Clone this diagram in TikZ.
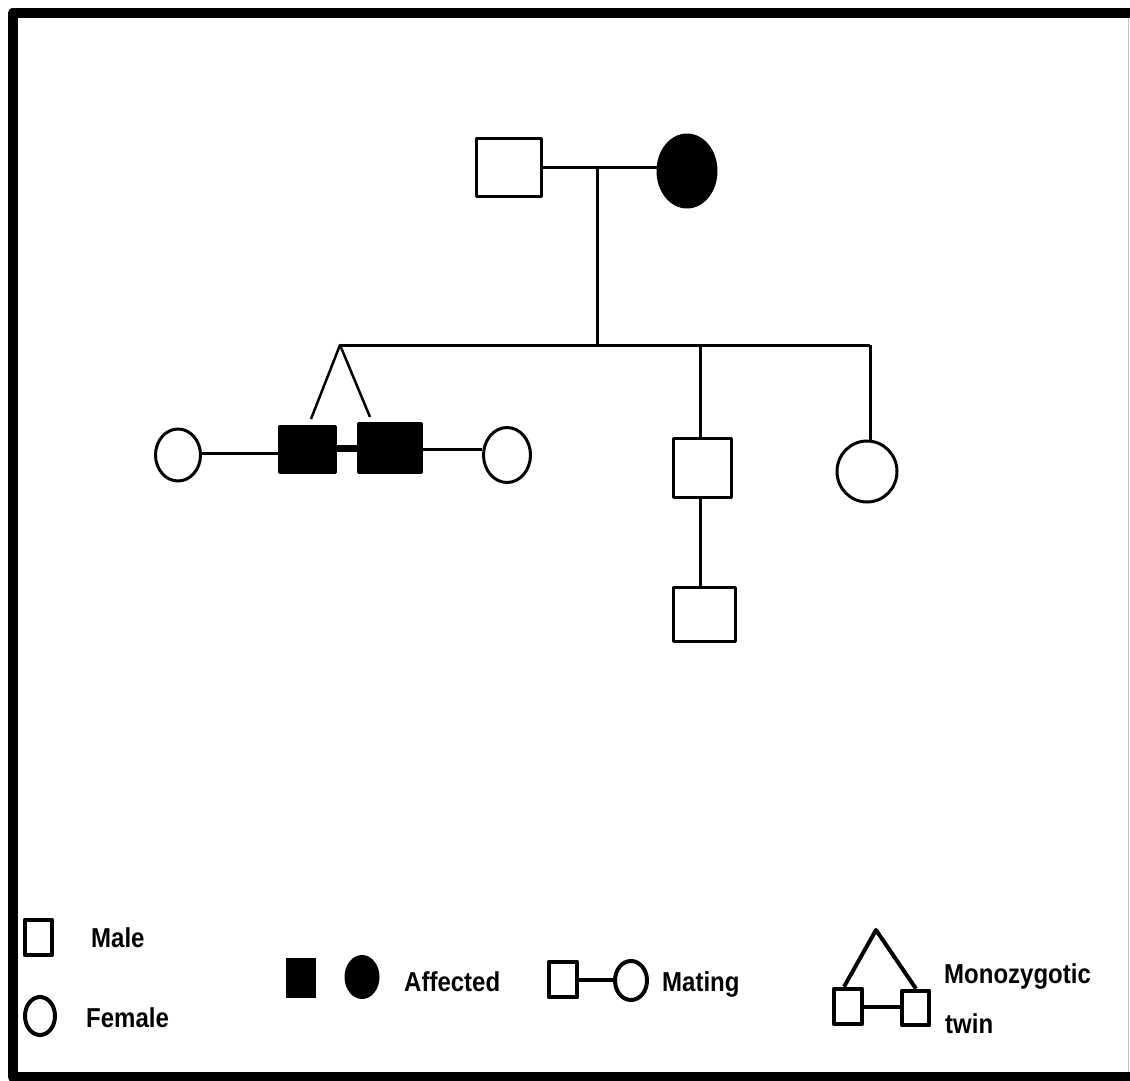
\documentclass[tikz,border=0pt]{standalone}
\usepackage{fontspec}
\usepackage{graphicx}
\setmainfont{Liberation Sans}
\usetikzlibrary{shapes.geometric}
% legend labels are set slightly taller than the font's natural shape
\newcommand{\tallbold}[1]{\scalebox{1}[1.14]{#1}}
\begin{document}
\begin{tikzpicture}[x=1pt,y=-1pt,
  line join=round,
  male/.style={draw,rectangle,line width=3pt,inner sep=0pt},
  female/.style={draw,ellipse,line width=3pt,inner sep=0pt},
  affected/.style={fill=black},
  link/.style={line width=3pt},
  lmale/.style={draw,rectangle,line width=4.5pt,inner sep=0pt},
  lfemale/.style={draw,ellipse,line width=4pt,inner sep=0pt},
  llink/.style={line width=4pt},
  legtext/.style={anchor=base west,inner sep=0pt,font=\fontsize{24}{28}\selectfont\bfseries}]

% canvas and frame
\useasboundingbox (0,0) rectangle (1130,1081);
\fill[white] (0,0) rectangle (1130,1081);
\draw[line width=10pt] (1135,13.5) -- (12.5,13.5) -- (12.5,1077) -- (1135,1077);
\draw[line width=1.2pt,black!25] (1128.5,18) -- (1128.5,1072);

% generation I
\node[male,minimum width=65pt,minimum height=58pt] (father) at (509,167) {};
\node[female,affected,minimum width=58pt,minimum height=72pt] (mother) at (687,171) {};
\draw[link] (father.east) -- (father.east -| mother.west);
\coordinate (mate) at (597,167);
\coordinate (sib) at (597,345);
\draw[link] (mate) -- (sib);

% sibship line
\coordinate (apex) at (340,345);
\coordinate (sibend) at (870,345);
\draw[link] (apex) -- (sibend);

% generation II: monozygotic twins with their spouses
\node[male,affected,minimum width=56pt,minimum height=46pt] (twinA) at (307,449) {};
\node[male,affected,minimum width=63pt,minimum height=49pt] (twinB) at (389.5,447.5) {};
\coordinate (legA) at (311,419);
\coordinate (legB) at (370,417);
\draw[line width=2.5pt] (legA) -- (apex) -- (legB);
\draw[line width=7pt] (twinA.east |- 0,448) -- (twinB.west |- 0,448);
\node[female,minimum width=45pt,minimum height=52pt] (wifeA) at (178,455) {};
\node[female,minimum width=47pt,minimum height=55pt] (wifeB) at (507,455) {};
\draw[link] (wifeA.east |- 0,453) -- (twinA.west |- 0,453);
\draw[link] (twinB.east |- 0,449) -- (wifeB.west |- 0,449);

% generation II: son and daughter
\node[male,minimum width=58pt,minimum height=59pt] (son) at (702.5,468) {};
\node[female,minimum width=60pt,minimum height=61pt] (daughter) at (867,471.5) {};
\coordinate (sonline) at (700,345);
\draw[link] (sonline) -- (sonline |- son.north);
\draw[link] (sibend) -- (sibend |- daughter.north);

% generation III
\node[male,minimum width=62pt,minimum height=54pt] (grandson) at (704.5,614.5) {};
\draw[link] (son.south -| sonline) -- (grandson.north -| sonline);

% legend
\node[lmale,minimum width=27pt,minimum height=35pt] (keymale) at (38.5,937.5) {};
\node[legtext] (keymaletext) at (91,947) {\tallbold{Male}};
\node[lfemale,minimum width=30pt,minimum height=38pt] (keyfemale) at (40,1016) {};
\node[legtext] (keyfemaletext) at (86,1027) {\tallbold{Female}};

\node[rectangle,fill=black,minimum width=30pt,minimum height=40pt,inner sep=0pt] (keyaffsq) at (301,978) {};
\node[ellipse,fill=black,minimum width=35pt,minimum height=44pt,inner sep=0pt] (keyaffci) at (362,977) {};
\node[legtext] (keyafftext) at (404,991) {\tallbold{Affected}};

\node[lmale,minimum width=28pt,minimum height=35pt] (keymatesq) at (563,979.5) {};
\node[lfemale,minimum width=32pt,minimum height=39pt] (keymateci) at (631,980.5) {};
\draw[llink] (keymatesq.east |- 0,980) -- (keymateci.west |- 0,980);
\node[legtext] (keymatetext) at (662,991) {\tallbold{Mating}};

\node[lmale,minimum width=28pt,minimum height=35pt] (keytwinA) at (848,1006.5) {};
\node[lmale,minimum width=27pt,minimum height=34pt] (keytwinB) at (915.5,1008) {};
\coordinate (keyapex) at (876,930);
\draw[llink] (keytwinA.north -| 844,0) -- (keyapex) -- (keytwinB.north -| 916,0);
\draw[llink] (keytwinA.east |- 0,1007) -- (keytwinB.west |- 0,1007);
\node[legtext] (keytwintext) at (944,983) {\tallbold{Monozygotic}};
\node[legtext] (keytwintext2) at (945,1033) {\tallbold{twin}};
\end{tikzpicture}
\end{document}
